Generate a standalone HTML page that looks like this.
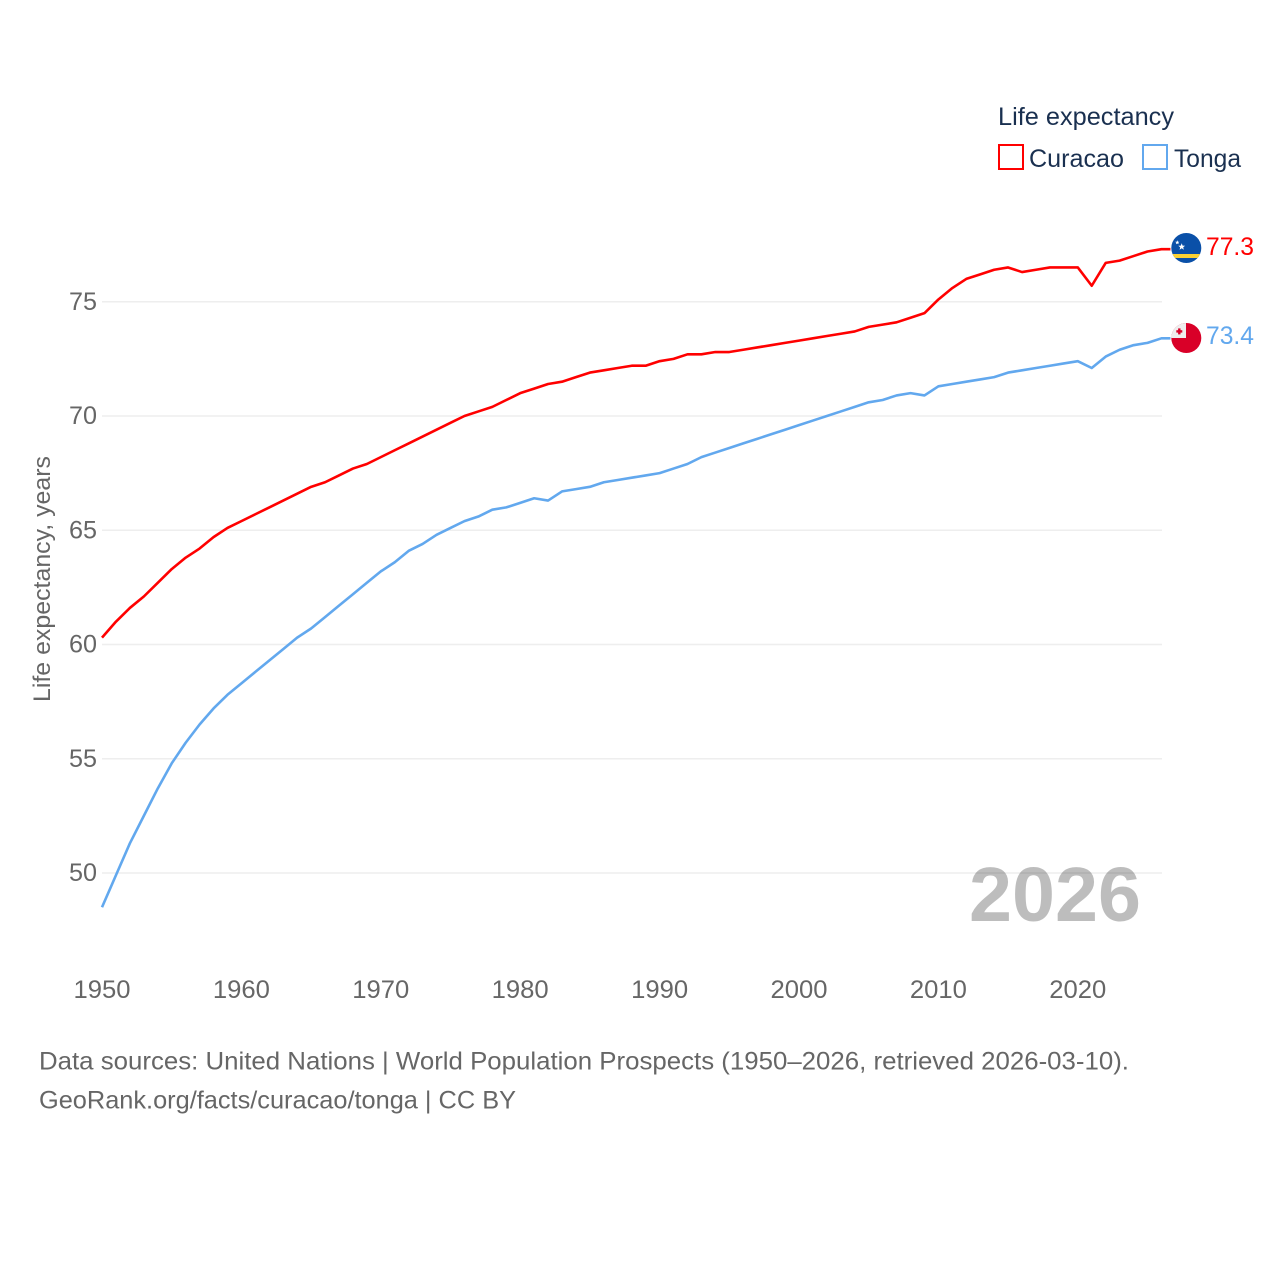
<!DOCTYPE html>
<html lang="en">
<head>
<meta charset="utf-8">
<title>Life expectancy: Curacao and Tonga</title>
<style>
html,body{margin:0;padding:0;background:#fff}
svg{display:block}
text{font-family:"Liberation Sans",sans-serif}
</style>
</head>
<body>
<svg id="chart" xmlns="http://www.w3.org/2000/svg" width="1280" height="1280" viewBox="0 0 1280 1280">
  <g id="grid"></g>
  <g id="y-ticks"></g>
  <g id="x-ticks"></g>
  <text transform="translate(50,702) rotate(-90)" font-size="24" fill="#666" textLength="246" lengthAdjust="spacingAndGlyphs">Life expectancy, years</text>
  <text x="969" y="921" font-size="77" font-weight="700" fill="#000" fill-opacity="0.26" textLength="172" lengthAdjust="spacingAndGlyphs">2026</text>
  <g id="series"></g>
  <g>
    <text x="998" y="125" font-size="25" fill="#1a3050" textLength="176" lengthAdjust="spacingAndGlyphs">Life expectancy</text>
    <rect x="999" y="145" width="24" height="24" fill="none" stroke="#ff0000" stroke-width="2"/>
    <text x="1029" y="167" font-size="25" fill="#1a3050" textLength="95" lengthAdjust="spacingAndGlyphs">Curacao</text>
    <rect x="1143" y="145" width="24" height="24" fill="none" stroke="#62a8ee" stroke-width="2"/>
    <text x="1174" y="167" font-size="25" fill="#1a3050" textLength="67" lengthAdjust="spacingAndGlyphs">Tonga</text>
  </g>
  <defs>
    <clipPath id="clip-curacao"><circle cx="1186.3" cy="248" r="15"/></clipPath>
    <clipPath id="clip-tonga"><circle cx="1186.3" cy="338" r="15"/></clipPath>
  </defs>
  <g clip-path="url(#clip-curacao)">
    <rect x="1170" y="232" width="32" height="32" fill="#0a50a8"/>
    <rect x="1170" y="254" width="32" height="4" fill="#fbd234"/>
    <polygon points="1181.7,243.2 1182.6,245.6 1185.1,245.7 1183.2,247.3 1183.8,249.7 1181.7,248.3 1179.6,249.7 1180.2,247.3 1178.3,245.7 1180.8,245.6" fill="#fff"/>
    <polygon points="1177.3,240.2 1177.9,241.7 1179.4,241.8 1178.3,242.8 1178.6,244.3 1177.3,243.5 1176,244.3 1176.3,242.8 1175.2,241.8 1176.7,241.7" fill="#fff"/>
  </g>
  <g clip-path="url(#clip-tonga)">
    <rect x="1170" y="322" width="32" height="32" fill="#d90028"/>
    <rect x="1170" y="322" width="16" height="16" fill="#eeeeee"/>
    <rect x="1178.1" y="328.4" width="2.4" height="6" fill="#d90028"/>
    <rect x="1176.3" y="330.2" width="6" height="2.4" fill="#d90028"/>
  </g>
  <text x="1206" y="255" font-size="25" fill="#ff0000" textLength="48" lengthAdjust="spacingAndGlyphs">77.3</text>
  <text x="1206" y="344" font-size="25" fill="#62a8ee" textLength="48" lengthAdjust="spacingAndGlyphs">73.4</text>
  <text x="39" y="1069.5" font-size="25" fill="#666" textLength="1090" lengthAdjust="spacingAndGlyphs">Data sources: United Nations | World Population Prospects (1950–2026, retrieved 2026-03-10).</text>
  <text x="39" y="1108.5" font-size="25" fill="#666" textLength="477" lengthAdjust="spacingAndGlyphs">GeoRank.org/facts/curacao/tonga | CC BY</text>
</svg>
<script>
const startYear = 1950;
const curacaoValues = [60.3,61.0,61.6,62.1,62.7,63.3,63.8,64.2,64.7,65.1,65.4,65.7,66.0,66.3,66.6,66.9,67.1,67.4,67.7,67.9,68.2,68.5,68.8,69.1,69.4,69.7,70.0,70.2,70.4,70.7,71.0,71.2,71.4,71.5,71.7,71.9,72.0,72.1,72.2,72.2,72.4,72.5,72.7,72.7,72.8,72.8,72.9,73.0,73.1,73.2,73.3,73.4,73.5,73.6,73.7,73.9,74.0,74.1,74.3,74.5,75.1,75.6,76.0,76.2,76.4,76.5,76.3,76.4,76.5,76.5,76.5,75.7,76.7,76.8,77.0,77.2,77.3];
const tongaValues = [48.5,49.9,51.3,52.5,53.7,54.8,55.7,56.5,57.2,57.8,58.3,58.8,59.3,59.8,60.3,60.7,61.2,61.7,62.2,62.7,63.2,63.6,64.1,64.4,64.8,65.1,65.4,65.6,65.9,66.0,66.2,66.4,66.3,66.7,66.8,66.9,67.1,67.2,67.3,67.4,67.5,67.7,67.9,68.2,68.4,68.6,68.8,69.0,69.2,69.4,69.6,69.8,70.0,70.2,70.4,70.6,70.7,70.9,71.0,70.9,71.3,71.4,71.5,71.6,71.7,71.9,72.0,72.1,72.2,72.3,72.4,72.1,72.6,72.9,73.1,73.2,73.4];
const yTickValues = [50,55,60,65,70,75];
const xTickValues = [1950,1960,1970,1980,1990,2000,2010,2020];

const NS = 'http://www.w3.org/2000/svg';
function xScale(year) { return 102 + (year - 1950) * 13.94; }
function yScale(v) { return 873 - (v - 50) * 22.85; }
function make(tag, attrs) {
  const el = document.createElementNS(NS, tag);
  for (const k in attrs) el.setAttribute(k, attrs[k]);
  return el;
}

const grid = document.getElementById('grid');
const yTicks = document.getElementById('y-ticks');
yTickValues.forEach(function (v) {
  const line = make('line', {x1: 102, x2: 1162, y1: yScale(v), y2: yScale(v), stroke: '#eeeeee', 'stroke-width': 1.5});
  
  
  grid.appendChild(line);
  const t = make('text', {x: 97, y: yScale(v) + 8, 'text-anchor': 'end', 'font-size': 25, fill: '#666', textLength: 28, lengthAdjust: 'spacingAndGlyphs'});
  
  
  t.textContent = v;
  yTicks.appendChild(t);
});

const xTicks = document.getElementById('x-ticks');
xTickValues.forEach(function (year) {
  const t = make('text', {x: xScale(year), y: 998, 'text-anchor': 'middle', 'font-size': 25, fill: '#666', textLength: 57, lengthAdjust: 'spacingAndGlyphs'});
  
  
  t.textContent = year;
  xTicks.appendChild(t);
});

function seriesPath(values) {
  return values.map(function (v, i) {
    return (i ? 'L' : 'M') + xScale(startYear + i).toFixed(2) + ' ' + yScale(v).toFixed(2);
  }).join(' ') + ' h9';
}
const series = document.getElementById('series');

const tongaLine = make('path', {d: seriesPath(tongaValues), fill: 'none', stroke: '#62a8ee', 'stroke-width': 2.6, 'stroke-linejoin': 'round'});


series.appendChild(tongaLine);

const curacaoLine = make('path', {d: seriesPath(curacaoValues), fill: 'none', stroke: '#ff0000', 'stroke-width': 2.6, 'stroke-linejoin': 'round'});


series.appendChild(curacaoLine);
</script>
</body>
</html>
